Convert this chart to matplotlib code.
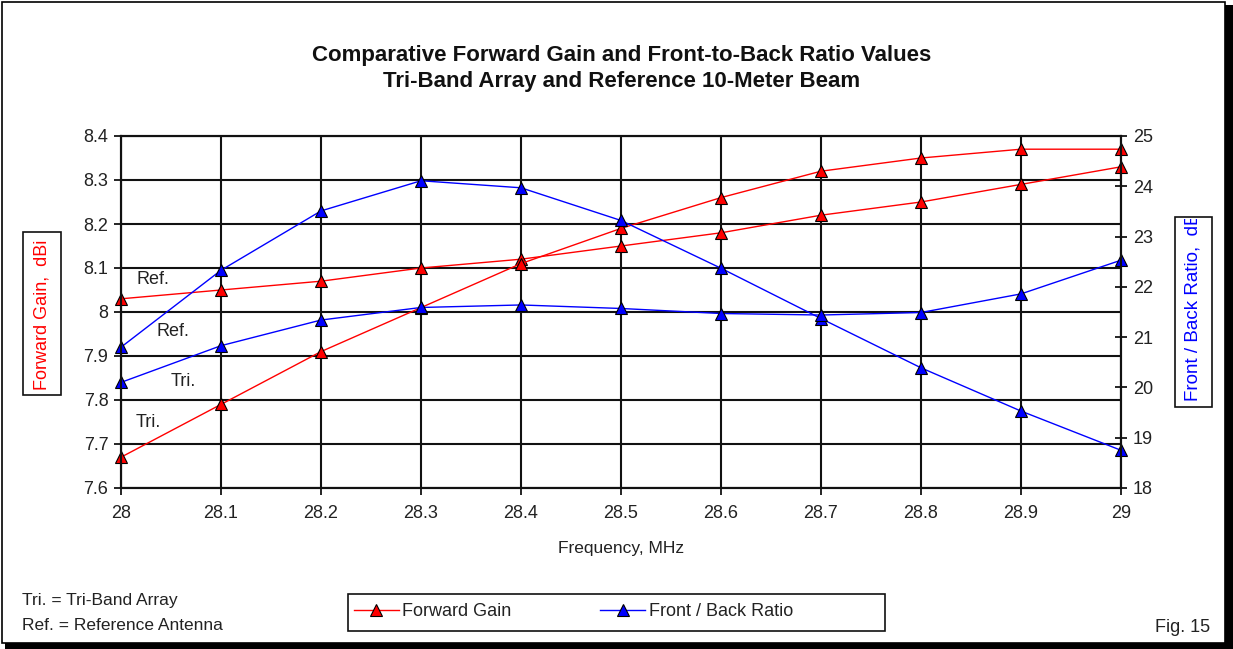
import matplotlib
matplotlib.use("Agg")
import matplotlib.pyplot as plt
from matplotlib.patches import Rectangle
from matplotlib.lines import Line2D

plt.rcParams['font.family'] = ['Liberation Sans', 'DejaVu Sans']

# Data
freq = [28.0, 28.1, 28.2, 28.3, 28.4, 28.5, 28.6, 28.7, 28.8, 28.9, 29.0]
freq_labels = ['28', '28.1', '28.2', '28.3', '28.4', '28.5', '28.6', '28.7', '28.8', '28.9', '29']
gain_ref = [8.03, 8.05, 8.07, 8.10, 8.12, 8.15, 8.18, 8.22, 8.25, 8.29, 8.33]
gain_tri = [7.67, 7.79, 7.91, 8.01, 8.11, 8.19, 8.26, 8.32, 8.35, 8.37, 8.37]
fb_ref = [20.80, 22.33, 23.51, 24.11, 23.97, 23.32, 22.37, 21.37, 20.39, 19.53, 18.75]
fb_tri = [20.10, 20.83, 21.34, 21.59, 21.64, 21.57, 21.47, 21.44, 21.49, 21.86, 22.53]
gain_ticks = [7.6, 7.7, 7.8, 7.9, 8.0, 8.1, 8.2, 8.3, 8.4]
gain_tick_labels = ['7.6', '7.7', '7.8', '7.9', '8', '8.1', '8.2', '8.3', '8.4']
fb_ticks = [18, 19, 20, 21, 22, 23, 24, 25]

W, H = 1233, 649


def fx(px):
    return px / W


def fy(py):
    return 1 - py / H


fig = plt.figure(figsize=(W / 100, H / 100), dpi=100)
fig.patch.set_facecolor('white')

# outer frame with shadow
fig.patches.append(Rectangle((fx(5), fy(649)), fx(1233) - fx(5), fy(5) - fy(649),
                             transform=fig.transFigure, facecolor='black', edgecolor='none', zorder=-3))
fig.patches.append(Rectangle((fx(2), fy(643)), fx(1225) - fx(2), fy(2) - fy(643),
                             transform=fig.transFigure, facecolor='white', edgecolor='black',
                             linewidth=1.2, zorder=-2))

ax = fig.add_axes([fx(121), fy(488), fx(1121) - fx(121), fy(136) - fy(488)])
ax2 = ax.twinx()

red = '#ff0000'
blue = '#0000ff'
mk = dict(marker='^', markersize=8, markeredgecolor='black', markeredgewidth=0.8, linewidth=1.0)

ax.plot(freq, gain_ref, color=red, markerfacecolor=red, clip_on=False, **mk)
ax.plot(freq, gain_tri, color=red, markerfacecolor=red, clip_on=False, **mk)
ax2.plot(freq, fb_ref, color=blue, markerfacecolor=blue, clip_on=False, **mk)
ax2.plot(freq, fb_tri, color=blue, markerfacecolor=blue, clip_on=False, **mk)

ax.set_xlim(28, 29)
ax.set_ylim(7.6, 8.4)
ax2.set_ylim(18, 25)
ax.set_xticks(freq)
ax.set_xticklabels(freq_labels)
ax.set_yticks(gain_ticks)
ax.set_yticklabels(gain_tick_labels)
ax2.set_yticks(fb_ticks)

ax.grid(True, color='#111111', linewidth=1.5)
ax.set_axisbelow(True)
for a in (ax, ax2):
    for s in a.spines.values():
        s.set_color('#111111')
        s.set_linewidth(1.5)

ax.tick_params(axis='x', direction='out', length=5, width=1.2, pad=7, labelsize=13,
               labelcolor='#222222')
ax.tick_params(axis='y', direction='out', length=5, width=1.2, pad=4, labelsize=13,
               labelcolor='#222222')
ax2.tick_params(axis='y', direction='inout', length=9, width=1.2, pad=4, labelsize=13,
                labelcolor='#222222')

# curve labels
lab = dict(fontsize=13, color='#222222', ha='left', va='center')
ax.text(28.016, 8.073, 'Ref.', **lab)
ax.text(28.035, 7.955, 'Ref.', **lab)
ax.text(28.050, 7.841, 'Tri.', **lab)
ax.text(28.015, 7.748, 'Tri.', **lab)

# titles
fig.text(fx(622), fy(56), 'Comparative Forward Gain and Front-to-Back Ratio Values',
         ha='center', va='center', fontsize=16, fontweight='bold', color='#111111')
fig.text(fx(622), fy(82), 'Tri-Band Array and Reference 10-Meter Beam',
         ha='center', va='center', fontsize=16, fontweight='bold', color='#111111')

fig.text(fx(621), fy(548), 'Frequency, MHz', ha='center', va='center', fontsize=12.5, color='#222222')

# left axis label in a box
fig.patches.append(Rectangle((fx(23), fy(395)), fx(61) - fx(23), fy(232) - fy(395),
                             transform=fig.transFigure, facecolor='white', edgecolor='#111111',
                             linewidth=1.2))
fig.text(fx(42), fy(315), 'Forward Gain,  dBi', rotation=90, ha='center', va='center',
         fontsize=13, color=red)

# right axis label in a box (text clipped by the box)
rbox = Rectangle((fx(1175), fy(407)), fx(1212) - fx(1175), fy(217) - fy(407),
                 transform=fig.transFigure, facecolor='white', edgecolor='#111111', linewidth=1.2)
fig.patches.append(rbox)
clip = Rectangle((fx(1176), fy(405)), fx(1211) - fx(1176), fy(219) - fy(405),
                 transform=fig.transFigure, facecolor='none', edgecolor='none')
fig.patches.append(clip)
t = fig.text(fx(1193), fy(401), 'Front / Back Ratio,  dB', rotation=90, ha='center', va='bottom',
             fontsize=13.5, color=blue)
t.set_clip_path(clip)

# legend
fig.patches.append(Rectangle((fx(348), fy(631)), fx(885) - fx(348), fy(594) - fy(631),
                             transform=fig.transFigure, facecolor='white', edgecolor='#111111',
                             linewidth=1.2))
handles = [Line2D([], [], color=red, markerfacecolor=red, **mk),
           Line2D([], [], color=blue, markerfacecolor=blue, **mk)]
fig.legend(handles, ['Forward Gain', 'Front / Back Ratio'], loc='center left',
           bbox_to_anchor=(fx(350), fy(612)), ncol=2, frameon=False, fontsize=13,
           handlelength=2.5, handletextpad=0.2, columnspacing=4.9, borderpad=0.2,
           borderaxespad=0, labelcolor='#222222')

# footnotes
fig.text(fx(22), fy(601), 'Tri. = Tri-Band Array', ha='left', va='center', fontsize=12.5, color='#222222')
fig.text(fx(22), fy(625), 'Ref. = Reference Antenna', ha='left', va='center', fontsize=12.5, color='#222222')
fig.text(fx(1210), fy(627), 'Fig. 15', ha='right', va='center', fontsize=13, color='#222222')

fig.savefig('out.png', dpi=100)
